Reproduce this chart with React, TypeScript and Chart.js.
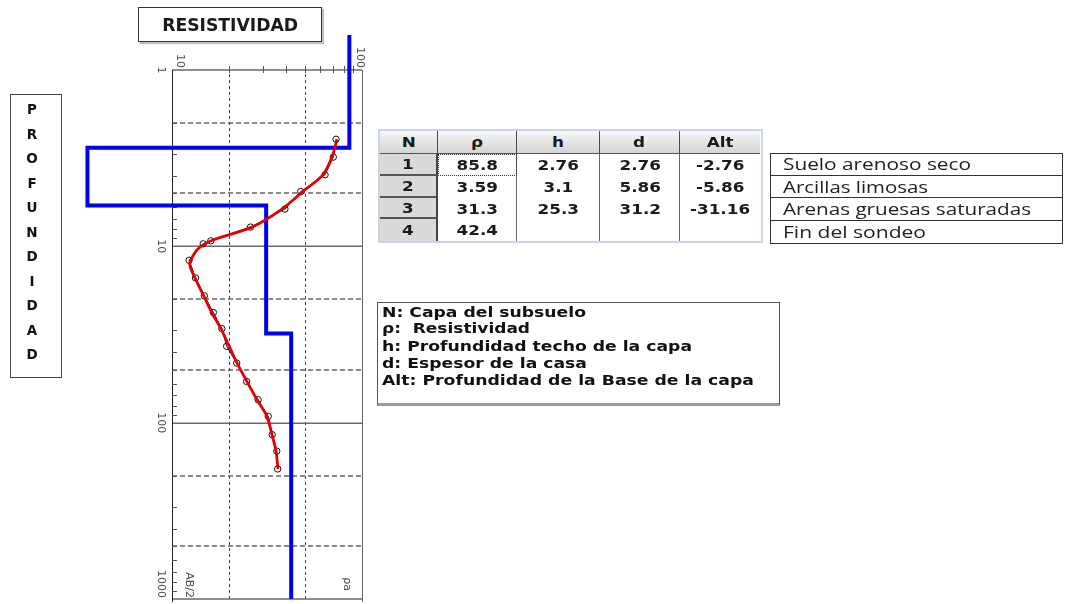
import React, { useEffect, useLayoutEffect, useRef } from 'react';
import { Chart, registerables } from 'chart.js';

Chart.register(...registerables);

// ---------- data ----------
// observed apparent resistivity (black circles)
const abHalfObs = [2.47, 3.12, 3.93, 4.89, 6.15, 7.78, 9.31, 9.68, 12.0, 15.1, 19.1, 23.7, 29.3, 36.9, 45.9, 58.4, 74.1, 92.1, 117, 145, 183];
const rhoApparentObs = [73.0, 70.6, 63.9, 47.6, 39.3, 25.9, 16.0, 14.6, 12.3, 13.3, 14.8, 16.5, 18.3, 19.4, 21.9, 24.7, 28.4, 32.1, 33.7, 35.6, 36.0];
// fitted curve (red)
const abHalfFit = [2.47, 3.12, 3.93, 4.89, 6.15, 7.78, 9.2, 10.1, 11.3, 12.7, 15.1, 19.1, 23.8, 29.3, 36.9, 45.9, 58.4, 74.1, 92.1, 117, 145, 183];
const rhoApparentFit = [73.9, 69.5, 62.3, 48.9, 37.9, 26.4, 16.4, 14.0, 12.9, 12.4, 13.2, 14.7, 16.2, 18.1, 20.0, 22.0, 24.8, 28.0, 31.6, 33.6, 35.3, 36.1];
// layered model (blue)
const layerRho = [85.8, 3.59, 31.3, 42.4];
const layerBaseDepth = [2.76, 5.86, 31.2];
const modelTopDepth = 0.634;
const modelBottomDepth = 1000;

// table
const tableHeaders = ['N', 'ρ', 'h', 'd', 'Alt'];
const layerN = ['1', '2', '3', '4'];
const layerRhoText = ['85.8', '3.59', '31.3', '42.4'];
const layerH = ['2.76', '3.1', '25.3', ''];
const layerD = ['2.76', '5.86', '31.2', ''];
const layerAlt = ['-2.76', '-5.86', '-31.16', ''];
const layerDescriptions = ['Suelo arenoso seco', 'Arcillas limosas', 'Arenas gruesas saturadas', 'Fin del sondeo'];
const legendLines = ['N: Capa del subsuelo', 'ρ:  Resistividad', 'h: Profundidad techo de la capa', 'd: Espesor de la casa', 'Alt: Profundidad de la Base de la capa'];

// axes
const depthTickLabels = ['1', '10', '100', '1000'];
const rhoTickLabels = ['10', '100'];
const depthDashedGrid = [2, 5, 20, 50, 200, 500];
const depthSolidGrid = [10, 100];
const rhoDashedGrid = [20, 50];
const titleText = 'RESISTIVIDAD';
const sideTitle = 'PROFUNDIDAD';
const depthAxisName = 'AB/2';
const rhoAxisName = 'ρa';

// ---------- helpers ----------
function modelSteps() {
  const pts: { x: number; y: number }[] = [{ x: layerRho[0], y: modelTopDepth }];
  layerBaseDepth.forEach((d, i) => {
    pts.push({ x: layerRho[i], y: d });
    pts.push({ x: layerRho[i + 1], y: d });
  });
  pts.push({ x: layerRho[layerRho.length - 1], y: modelBottomDepth });
  return pts;
}

function vtext(ctx: CanvasRenderingContext2D, t: string, cx: number, cy: number) {
  ctx.save();
  ctx.translate(cx, cy);
  ctx.rotate(Math.PI / 2);
  ctx.textAlign = 'center';
  ctx.textBaseline = 'middle';
  ctx.fillText(t, 0, 0);
  ctx.restore();
}

const axesPlugin = {
  id: 'vesAxes',
  beforeDatasetsDraw(chart: any) {
    const { ctx, chartArea: a, scales } = chart;
    const x = scales.x;
    const y = scales.y;
    ctx.save();
    // dashed horizontal grid
    ctx.strokeStyle = '#8c8c8c';
    ctx.lineWidth = 2;
    ctx.setLineDash([5, 3]);
    depthDashedGrid.forEach((v) => {
      const py = Math.round(y.getPixelForValue(v));
      ctx.beginPath();
      ctx.moveTo(a.left, py);
      ctx.lineTo(a.right, py);
      ctx.stroke();
    });
    // dashed vertical grid
    ctx.strokeStyle = '#444';
    ctx.lineWidth = 1;
    ctx.setLineDash([3, 3]);
    rhoDashedGrid.forEach((v) => {
      const px = Math.round(x.getPixelForValue(v)) + 0.5;
      ctx.beginPath();
      ctx.moveTo(px, a.top - 2);
      ctx.lineTo(px, a.bottom);
      ctx.stroke();
    });
    ctx.setLineDash([]);
    // solid horizontal
    ctx.strokeStyle = '#6a6a6a';
    ctx.lineWidth = 1.5;
    depthSolidGrid.forEach((v) => {
      const py = Math.round(y.getPixelForValue(v)) + 0.25;
      ctx.beginPath();
      ctx.moveTo(a.left, py);
      ctx.lineTo(a.right, py);
      ctx.stroke();
    });
    // frame
    ctx.strokeStyle = '#6a6a6a';
    ctx.lineWidth = 1.5;
    ctx.beginPath();
    ctx.moveTo(a.left, a.top);
    ctx.lineTo(a.right, a.top);
    ctx.moveTo(a.left, a.bottom);
    ctx.lineTo(a.right, a.bottom);
    ctx.stroke();
    ctx.lineWidth = 1;
    ctx.strokeStyle = '#222';
    ctx.beginPath();
    ctx.moveTo(a.left + 0.5, a.top);
    ctx.lineTo(a.left + 0.5, a.bottom + 3);
    ctx.stroke();
    ctx.strokeStyle = '#666';
    ctx.beginPath();
    ctx.moveTo(a.right + 0.5, a.top);
    ctx.lineTo(a.right + 0.5, a.bottom + 3);
    ctx.stroke();
    // minor ticks on depth axis
    ctx.strokeStyle = '#555';
    for (let e = 0; e < 3; e++) {
      for (let k = 2; k <= 9; k++) {
        const py = Math.round(y.getPixelForValue(k * Math.pow(10, e))) + 0.5;
        ctx.beginPath();
        ctx.moveTo(a.left, py);
        ctx.lineTo(a.left + 5, py);
        ctx.stroke();
      }
    }
    // minor ticks on resistivity axis
    for (let k = 2; k <= 9; k++) {
      const px = Math.round(x.getPixelForValue(k * 10)) + 0.5;
      ctx.beginPath();
      ctx.moveTo(px, a.top - 4);
      ctx.lineTo(px, a.top + 3);
      ctx.stroke();
    }
    // labels
    ctx.fillStyle = '#4a4a4a';
    ctx.font = '11px "DejaVu Sans", sans-serif';
    depthTickLabels.forEach((t) => {
      const v = Number(t);
      const w = ctx.measureText(t).width;
      const py = Math.min(y.getPixelForValue(v), a.bottom - w / 2 - 1);
      vtext(ctx, t, a.left - 11, py);
    });
    rhoTickLabels.forEach((t) => {
      const v = Number(t);
      const w = ctx.measureText(t).width;
      const px = Math.min(x.getPixelForValue(v) + 8, a.right - 2);
      vtext(ctx, t, px, a.top - 2 - w / 2);
    });
    {
      const w = ctx.measureText(depthAxisName).width;
      vtext(ctx, depthAxisName, a.left + 17, a.bottom - w / 2 - 1);
      const w2 = ctx.measureText(rhoAxisName).width;
      vtext(ctx, rhoAxisName, a.right - 15, a.bottom - w2 / 2 - 8);
    }
    ctx.restore();
  },
};

function Fit({ text, width, style, origin }: { text: string; width: number; style?: any; origin?: string }) {
  const ref = useRef<HTMLSpanElement>(null);
  useLayoutEffect(() => {
    const el = ref.current;
    if (!el) return;
    el.style.transform = 'none';
    const w = el.getBoundingClientRect().width;
    if (w > 0) el.style.transform = `scaleX(${width / w})`;
  }, [text, width]);
  return (
    <span
      ref={ref}
      style={{ display: 'inline-block', whiteSpace: 'pre', transformOrigin: origin || 'left center', ...style }}
    >
      {text}
    </span>
  );
}

const colX = [380, 438, 517, 600, 680, 760];
const rowY = [131, 154, 176, 198, 219, 241];

const tableFont: any = {
  fontFamily: '"DejaVu Sans", sans-serif',
  fontWeight: 'bold',
  fontSize: 14,
  color: '#1a1a1a',
  display: 'inline-block',
  transform: 'scaleX(1.2)',
  whiteSpace: 'pre',
};

export default function App() {
  const canvasRef = useRef<HTMLCanvasElement>(null);

  useEffect(() => {
    const canvas = canvasRef.current;
    if (!canvas) return;
    const chart = new Chart(canvas, {
      type: 'scatter',
      data: {
        datasets: [
          {
            label: 'Curva ajustada',
            data: abHalfFit.map((d, i) => ({ x: rhoApparentFit[i], y: d })),
            showLine: true,
            borderColor: 'rgb(228,0,0)',
            borderWidth: 2.8,
            pointRadius: 0,
            tension: 0.25,
            fill: false,
          },
          {
            label: 'Datos de campo',
            data: abHalfObs.map((d, i) => ({ x: rhoApparentObs[i], y: d })),
            showLine: true,
            borderColor: '#111',
            borderWidth: 1,
            pointRadius: 3.2,
            pointStyle: 'circle',
            pointBorderColor: '#111',
            pointBorderWidth: 1,
            pointBackgroundColor: 'rgba(255,255,255,0)',
            fill: false,
          },
          {
            label: 'Modelo',
            data: modelSteps(),
            showLine: true,
            borderColor: 'rgb(0,0,235)',
            borderWidth: 4,
            borderJoinStyle: 'miter',
            pointRadius: 0,
            tension: 0,
            fill: false,
            clip: false,
          },
        ] as any,
      },
      options: {
        responsive: false,
        maintainAspectRatio: false,
        animation: false,
        events: [],
        layout: { padding: { left: 172, top: 70, right: 707, bottom: 3 } },
        plugins: { legend: { display: false }, tooltip: { enabled: false } },
        scales: {
          x: { type: 'logarithmic', min: 10, max: 100, display: false },
          y: { type: 'logarithmic', min: 1, max: 1000, reverse: true, display: false },
        },
      } as any,
      plugins: [axesPlugin],
    });
    return () => chart.destroy();
  }, []);

  const letterY0 = 109;
  const letterStep = 24.5;

  return (
    <div style={{ position: 'fixed', left: 0, top: 0, width: 1069, height: 604, background: '#fff', overflow: 'hidden' }}>
      <canvas ref={canvasRef} width={1069} height={604} style={{ position: 'absolute', left: 0, top: 0 }} />

      {/* title box */}
      <div
        style={{
          position: 'absolute', left: 138, top: 7, width: 184, height: 35, boxSizing: 'border-box',
          border: '1px solid #333', boxShadow: '2px 2px 1px rgba(0,0,0,0.25)',
          display: 'flex', alignItems: 'center', justifyContent: 'center',
        }}
      >
        <Fit text={titleText} width={136} origin="center center"
          style={{ fontFamily: '"DejaVu Sans", sans-serif', fontWeight: 'bold', fontSize: 17, color: '#1a1a1a' }} />
      </div>

      {/* side title */}
      <div style={{ position: 'absolute', left: 10, top: 94, width: 52, height: 284, boxSizing: 'border-box', border: '1px solid #444' }} />
      {sideTitle.split('').map((ch, i) => (
        <div key={i}
          style={{
            position: 'absolute', left: 20, width: 24, top: letterY0 + i * letterStep - 9, height: 18, lineHeight: '18px',
            textAlign: 'center', fontFamily: '"DejaVu Sans", sans-serif', fontWeight: 'bold', fontSize: 13.5, color: '#111',
          }}>
          {ch}
        </div>
      ))}

      {/* parameter table */}
      <div style={{ position: 'absolute', left: 378, top: 129, width: 385, height: 114, boxSizing: 'border-box', border: '2px solid #c9d6e8' }} />
      {tableHeaders.map((h, c) => (
        <div key={'h' + c}
          style={{
            position: 'absolute', left: colX[c], top: rowY[0], width: colX[c + 1] - colX[c], height: rowY[1] - rowY[0],
            boxSizing: 'border-box', background: 'linear-gradient(#f7f7f7,#d4d4d4)',
            borderRight: c < 4 ? '1px solid #4a4a4a' : 'none', borderBottom: '1px solid #555',
            display: 'flex', alignItems: 'center', justifyContent: 'center',
          }}>
          <span style={tableFont}>{h}</span>
        </div>
      ))}
      {[1, 2, 3].map((c) => (
        <div key={'col' + c}
          style={{
            position: 'absolute', left: colX[c], top: rowY[1], width: colX[c + 1] - colX[c], height: rowY[5] - rowY[1],
            boxSizing: 'border-box', borderRight: '1px solid #666',
          }} />
      ))}
      {layerN.map((n, r) => (
        <div key={'n' + r}
          style={{
            position: 'absolute', left: colX[0], top: rowY[r + 1], width: colX[1] - colX[0], height: rowY[r + 2] - rowY[r + 1],
            boxSizing: 'border-box', background: '#d9d9d9', borderBottom: r < 3 ? '2px solid #555' : 'none',
            borderRight: '2px solid #444', display: 'flex', alignItems: 'center', justifyContent: 'center',
          }}>
          <span style={tableFont}>{n}</span>
        </div>
      ))}
      {[layerRhoText, layerH, layerD, layerAlt].map((col, ci) =>
        col.map((v, r) => (
          <div key={'c' + ci + '-' + r}
            style={{
              position: 'absolute', left: colX[ci + 1], top: rowY[r + 1], width: colX[ci + 2] - colX[ci + 1],
              height: rowY[r + 2] - rowY[r + 1], boxSizing: 'border-box',
              border: ci === 0 && r === 0 ? '1px dotted #333' : 'none',
              display: 'flex', alignItems: 'center', justifyContent: 'center',
            }}>
            <span style={tableFont}>{v}</span>
          </div>
        ))
      )}

      {/* layer descriptions */}
      <div style={{ position: 'absolute', left: 770, top: 153, width: 293, height: 91, boxSizing: 'border-box', border: '1px solid #333' }} />
      {layerDescriptions.map((t, r) => (
        <div key={'d' + r}
          style={{
            position: 'absolute', left: 771, top: [153, 175, 197, 220][r], width: 291, height: [22, 22, 23, 23][r],
            boxSizing: 'border-box', borderTop: r > 0 ? '1px solid #333' : 'none',
            display: 'flex', alignItems: 'center', paddingLeft: 12,
          }}>
          <Fit text={t} width={[188, 145, 248, 143][r]}
            style={{ fontFamily: '"Open Sans", sans-serif', fontSize: 16, color: '#1e1e1e', lineHeight: '18px' }} />
        </div>
      ))}

      {/* legend box */}
      <div style={{ position: 'absolute', left: 377, top: 302, width: 403, height: 104, boxSizing: 'border-box', border: '1px solid #555', borderBottom: '3px solid #999' }} />
      {legendLines.map((t, r) => (
        <div key={'l' + r}
          style={{
            position: 'absolute', left: 382, top: [311.5, 328, 345.5, 363, 380][r] - 9, height: 18,
            display: 'flex', alignItems: 'center',
          }}>
          <Fit text={t} width={[204, 148, 310, 205, 372][r]}
            style={{ fontFamily: '"DejaVu Sans", sans-serif', fontWeight: 'bold', fontSize: 14, color: '#111', lineHeight: '18px' }} />
        </div>
      ))}
    </div>
  );
}
